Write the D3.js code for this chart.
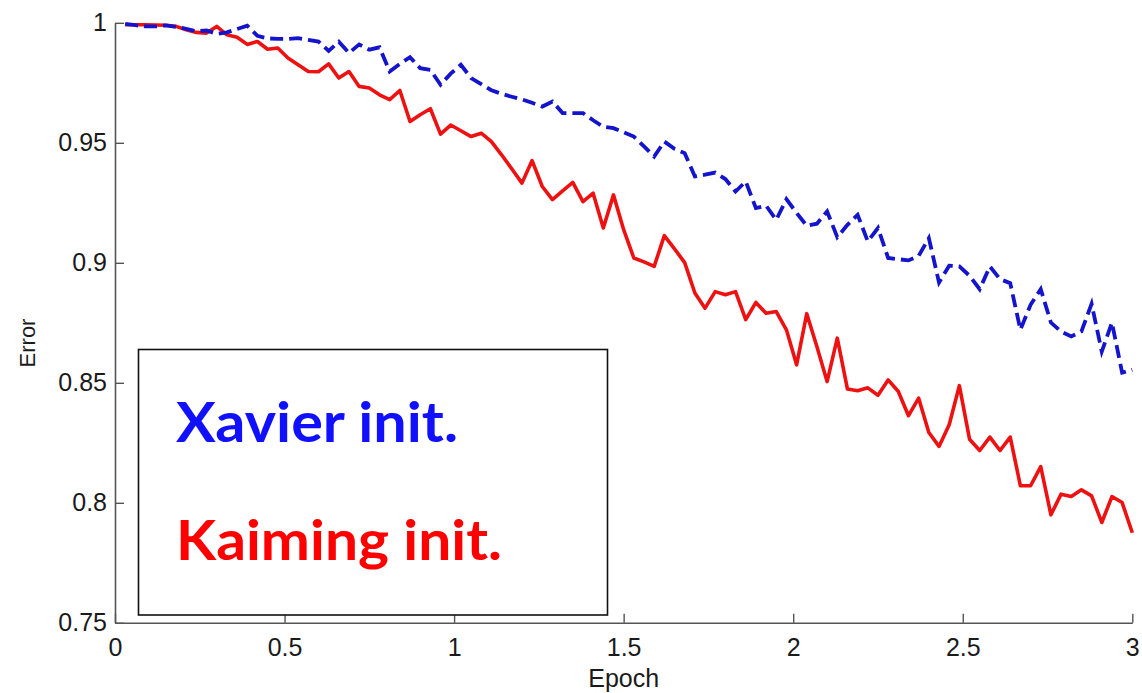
<!DOCTYPE html>
<html>
<head>
<meta charset="utf-8">
<script src="https://cdn.jsdelivr.net/npm/d3@7"></script>
<style>
  html, body { margin: 0; padding: 0; background: #fff; }
  svg { display: block; }
</style>
</head>
<body>
<svg id="chart" width="1142" height="693"></svg>
<script>
// error per sample, one sample every 0.03 epoch (0.03 .. 3.0)
const epochStep = 0.03

const xavierErr = [
  0.9996, 0.9990, 0.9985, 0.9985, 0.9989, 0.9983, 0.9975, 0.9965, 0.9968, 0.9954,
  0.9960, 0.9974, 0.9988, 0.9946, 0.9935, 0.9933, 0.9933, 0.9936, 0.9929, 0.9922,
  0.9883, 0.9921, 0.9874, 0.9910, 0.9888, 0.9898, 0.9797, 0.9829, 0.9857, 0.9811,
  0.9804, 0.9742, 0.9788, 0.9825, 0.9770, 0.9744, 0.9719, 0.9704, 0.9692, 0.9681,
  0.9667, 0.9651, 0.9672, 0.9624, 0.9624, 0.9624, 0.9594, 0.9567, 0.9561, 0.9544,
  0.9526, 0.9485, 0.9443, 0.9505, 0.9475, 0.9457, 0.9360, 0.9367, 0.9376, 0.9349,
  0.9297, 0.9339, 0.9228, 0.9238, 0.9179, 0.9265, 0.9208, 0.9154, 0.9163, 0.9214,
  0.9107, 0.9158, 0.9200, 0.9089, 0.9145, 0.9020, 0.9015, 0.9010, 0.9029, 0.9103,
  0.8918, 0.8988, 0.8985, 0.8946, 0.8890, 0.8985, 0.8932, 0.8915, 0.8721, 0.8825,
  0.8890, 0.8751, 0.8713, 0.8693, 0.8714, 0.8829, 0.8630, 0.8751, 0.8542, 0.8554
]

const kaimingErr = [
  0.9992, 0.9992, 0.9992, 0.9991, 0.9990, 0.9985, 0.9971, 0.9960, 0.9957, 0.9985,
  0.9950, 0.9940, 0.9910, 0.9922, 0.9890, 0.9895, 0.9853, 0.9825, 0.9797, 0.9796,
  0.9829, 0.9770, 0.9797, 0.9735, 0.9728, 0.9700, 0.9680, 0.9718, 0.9589, 0.9617,
  0.9642, 0.9536, 0.9574, 0.9550, 0.9526, 0.9540, 0.9505, 0.9450, 0.9392, 0.9332,
  0.9426, 0.9318, 0.9263, 0.9300, 0.9335, 0.9255, 0.9290, 0.9145, 0.9283, 0.9138,
  0.9020, 0.9004, 0.8985, 0.9113, 0.9058, 0.9001, 0.8874, 0.8811, 0.8880, 0.8867,
  0.8880, 0.8763, 0.8835, 0.8790, 0.8797, 0.8721, 0.8575, 0.8788, 0.8650, 0.8505,
  0.8686, 0.8474, 0.8467, 0.8479, 0.8448, 0.8512, 0.8464, 0.8363, 0.8436, 0.8293,
  0.8235, 0.8325, 0.8488, 0.8265, 0.8218, 0.8274, 0.8218, 0.8274, 0.8071, 0.8071,
  0.8151, 0.7950, 0.8036, 0.8026, 0.8054, 0.8029, 0.7918, 0.8026, 0.8001, 0.7875
]

const xTicks = [0, 0.5, 1, 1.5, 2, 2.5, 3]
const yTicks = [0.75, 0.8, 0.85, 0.9, 0.95, 1]

const legendLabels = ["Xavier init.", "Kaiming init."]

const svg = d3.select("#chart")

const x = d3.scaleLinear().domain([0, 3]).range([115, 1132.3])
const y = d3.scaleLinear().domain([0.75, 1]).range([622.8, 22.8])

const axisColor = "#555"
const labelFont = "'Liberation Sans', Arial, Helvetica, sans-serif"

// axes (ticks point inward, like matlab)
const xAxis = svg.append("g")
  .attr("transform", `translate(0, ${y(0.75)})`)
  .call(d3.axisBottom(x).tickValues(xTicks).tickFormat(d3.format("~g"))
    .tickSizeInner(-9).tickSizeOuter(0).tickPadding(15))

const yAxis = svg.append("g")
  .attr("transform", `translate(${x(0)}, 0)`)
  .call(d3.axisLeft(y).tickValues(yTicks).tickFormat(d3.format("~g"))
    .tickSizeInner(-9).tickSizeOuter(0).tickPadding(8))

for (const ax of [xAxis, yAxis]) {
  ax.select(".domain").attr("stroke", axisColor).attr("stroke-width", 1.6)
  ax.selectAll(".tick line").attr("stroke", axisColor).attr("stroke-width", 1.4)
  ax.selectAll(".tick text")
    .attr("fill", "#1a1a1a")
    .style("font-family", labelFont)
    .style("font-size", "25px")
}

svg.append("text")
  .attr("x", (x(0) + x(3)) / 2)
  .attr("y", 687)
  .attr("text-anchor", "middle")
  .attr("fill", "#1a1a1a")
  .style("font-family", labelFont)
  .style("font-size", "25px")
  .text("Epoch")

svg.append("text")
  .attr("transform", "translate(35, 343) rotate(-90)")
  .attr("text-anchor", "middle")
  .attr("fill", "#1a1a1a")
  .style("font-family", labelFont)
  .style("font-size", "22px")
  .text("Error")

// curves
const line = d3.line()
  .x((d, i) => x((i + 1) * epochStep))
  .y(d => y(d))

svg.append("path")
  .datum(kaimingErr)
  .attr("fill", "none")
  .attr("stroke", "#ee1111")
  .attr("stroke-width", 3.6)
  .attr("stroke-linejoin", "round")
  .attr("d", line)

svg.append("path")
  .datum(xavierErr)
  .attr("fill", "none")
  .attr("stroke", "#1414cc")
  .attr("stroke-width", 3.8)
  .attr("stroke-dasharray", "13,6")
  .attr("d", line)

// legend box
svg.append("rect")
  .attr("x", 138.5)
  .attr("y", 349.5)
  .attr("width", 469)
  .attr("height", 265.5)
  .attr("fill", "#fff")
  .attr("stroke", "#111")
  .attr("stroke-width", 1.6)

const legendColors = ["#1010ff", "#ff0000"]
const legendBase = [442, 560]
const legendWidths = [282, 326]

svg.selectAll("text.legend")
  .data(legendLabels)
  .join("text")
  .attr("class", "legend")
  .attr("x", 176)
  .attr("y", (d, i) => legendBase[i])
  .attr("fill", (d, i) => legendColors[i])
  .attr("textLength", (d, i) => legendWidths[i])
  .attr("lengthAdjust", "spacingAndGlyphs")
  .style("font-family", "Lato, 'Open Sans', sans-serif")
  .style("font-weight", "bold")
  .style("font-size", "56px")
  .text(d => d)
</script>
</body>
</html>
